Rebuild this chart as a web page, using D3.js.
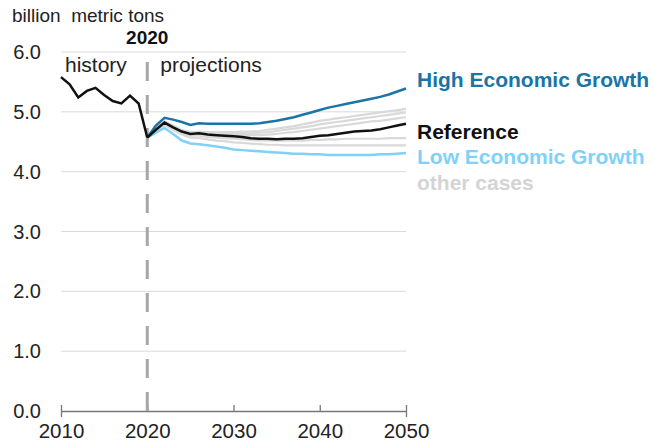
<!DOCTYPE html>
<meta charset="utf-8">
<title>Energy-related CO2 emissions</title>
<style>
    body { margin: 0; background: #fff; }
    text { font-family: "Liberation Sans", Arial, sans-serif; }
</style>
<body>
<div id="chart"></div>
<script src="https://d3js.org/d3.v7.min.js"></script>
<script>

// history, 2010-2020
var histYears = [2010, 2011, 2012, 2013, 2014, 2015, 2016, 2017, 2018, 2019, 2020];
var histValues = [5.58, 5.46, 5.24, 5.35, 5.40, 5.28, 5.18, 5.14, 5.27, 5.14, 4.57];

// projections, 2020-2050
var projYears = [2020, 2021, 2022, 2023, 2024, 2025, 2026, 2027, 2028, 2029, 2030,
    2031, 2032, 2033, 2034, 2035, 2036, 2037, 2038, 2039, 2040,
    2041, 2042, 2043, 2044, 2045, 2046, 2047, 2048, 2049, 2050];

var reference = [4.57, 4.70, 4.82, 4.74, 4.67, 4.63, 4.64, 4.62, 4.61, 4.60, 4.59,
    4.58, 4.56, 4.55, 4.55, 4.54, 4.55, 4.55, 4.56, 4.58, 4.60,
    4.61, 4.63, 4.65, 4.67, 4.68, 4.69, 4.71, 4.74, 4.77, 4.80];

var highGrowth = [4.57, 4.77, 4.90, 4.87, 4.83, 4.78, 4.81, 4.80, 4.80, 4.80, 4.80,
    4.80, 4.80, 4.81, 4.83, 4.85, 4.88, 4.91, 4.95, 4.99, 5.03,
    5.07, 5.10, 5.13, 5.16, 5.19, 5.22, 5.25, 5.29, 5.34, 5.39];

var lowGrowth = [4.57, 4.65, 4.73, 4.63, 4.52, 4.47, 4.46, 4.44, 4.42, 4.40, 4.37,
    4.36, 4.35, 4.34, 4.33, 4.32, 4.31, 4.30, 4.30, 4.29, 4.29,
    4.28, 4.28, 4.28, 4.28, 4.28, 4.28, 4.29, 4.29, 4.30, 4.31];

// other side cases
var otherA = [4.57, 4.72, 4.84, 4.77, 4.70, 4.66, 4.67, 4.66, 4.66, 4.66, 4.66,
    4.67, 4.67, 4.68, 4.70, 4.72, 4.74, 4.76, 4.79, 4.82, 4.85,
    4.87, 4.89, 4.91, 4.93, 4.95, 4.97, 4.99, 5.01, 5.03, 5.05];
var otherB = [4.57, 4.71, 4.83, 4.76, 4.69, 4.65, 4.66, 4.65, 4.64, 4.64, 4.64,
    4.64, 4.64, 4.65, 4.66, 4.68, 4.70, 4.72, 4.74, 4.76, 4.79,
    4.81, 4.83, 4.85, 4.87, 4.89, 4.91, 4.93, 4.95, 4.97, 4.99];
var otherC = [4.57, 4.71, 4.82, 4.75, 4.68, 4.64, 4.64, 4.63, 4.62, 4.62, 4.61,
    4.61, 4.61, 4.61, 4.62, 4.63, 4.65, 4.66, 4.68, 4.70, 4.72,
    4.74, 4.76, 4.78, 4.80, 4.82, 4.84, 4.85, 4.87, 4.89, 4.91];
var otherD = [4.57, 4.69, 4.80, 4.72, 4.64, 4.60, 4.60, 4.58, 4.57, 4.56, 4.55,
    4.54, 4.53, 4.52, 4.52, 4.52, 4.52, 4.52, 4.52, 4.53, 4.53,
    4.54, 4.54, 4.55, 4.55, 4.55, 4.55, 4.55, 4.56, 4.56, 4.56];
var otherE = [4.57, 4.68, 4.78, 4.70, 4.62, 4.57, 4.56, 4.54, 4.52, 4.51, 4.49,
    4.48, 4.47, 4.46, 4.45, 4.45, 4.44, 4.44, 4.44, 4.44, 4.44,
    4.44, 4.44, 4.44, 4.44, 4.44, 4.44, 4.44, 4.44, 4.44, 4.44];
var otherCases = [otherA, otherB, otherC, otherD, otherE];

var xTicks = [2010, 2020, 2030, 2040, 2050];
var yTicks = [0, 1, 2, 3, 4, 5, 6];

var W = 655, H = 447;
var margin = { top: 52, right: 249, bottom: 36, left: 61 },
    width = W - margin.left - margin.right,
    height = H - margin.top - margin.bottom;

var x = d3.scaleLinear().domain([2010, 2050]).range([0, width]);
var y = d3.scaleLinear().domain([0, 6]).range([height, 0]);

var svg = d3.select("#chart").append("svg")
    .attr("width", W)
    .attr("height", H);
var g = svg.append("g")
    .attr("transform", "translate(" + margin.left + "," + margin.top + ")");

// gridlines
g.append("g")
    .selectAll("line")
    .data(yTicks.filter(function (d) { return d > 0; }))
    .enter().append("line")
    .attr("x1", 0).attr("x2", width)
    .attr("y1", function (d) { return y(d); })
    .attr("y2", function (d) { return y(d); })
    .attr("stroke", "#d9d9d9")
    .attr("stroke-width", 1);

// y labels
g.append("g")
    .selectAll("text")
    .data(yTicks)
    .enter().append("text")
    .attr("x", -20)
    .attr("y", function (d) { return y(d) + 7; })
    .attr("text-anchor", "end")
    .attr("font-size", "20px")
    .attr("fill", "#222")
    .text(function (d) { return d3.format(".1f")(d); });

// x axis
var xAxis = g.append("g")
    .attr("transform", "translate(0," + height + ")")
    .call(d3.axisBottom(x).tickValues(xTicks).tickFormat(d3.format("d")).tickSize(6).tickPadding(2));
xAxis.select(".domain").attr("stroke", "#777").attr("stroke-width", 1.3);
xAxis.selectAll(".tick line").attr("stroke", "#777").attr("stroke-width", 1.3)
    .attr("y1", 0).attr("y2", -6);
xAxis.selectAll(".tick text")
    .attr("font-family", "Liberation Sans, Arial, sans-serif")
    .attr("font-size", "20.5px")
    .attr("fill", "#222")
    .attr("dy", "0.95em");

// 2020 divider
g.append("line")
    .attr("x1", x(2020)).attr("x2", x(2020))
    .attr("y1", height).attr("y2", 0)
    .attr("stroke", "#a6a6a6")
    .attr("stroke-width", 3)
    .attr("stroke-dasharray", "19,14");

var line = d3.line()
    .x(function (d) { return x(d[0]); })
    .y(function (d) { return y(d[1]); });

function pairs(years, vals) {
    return years.map(function (yr, i) { return [yr, vals[i]]; });
}

// other cases
g.append("g")
    .selectAll("path")
    .data(otherCases)
    .enter().append("path")
    .attr("d", function (d) { return line(pairs(projYears, d)); })
    .attr("fill", "none")
    .attr("stroke", "#d9d9d9")
    .attr("stroke-width", 2.2);

g.append("path")
    .attr("d", line(pairs(projYears, lowGrowth)))
    .attr("fill", "none")
    .attr("stroke", "#7fd2f7")
    .attr("stroke-width", 2.5);

g.append("path")
    .attr("d", line(pairs(projYears, highGrowth)))
    .attr("fill", "none")
    .attr("stroke", "#1b74a6")
    .attr("stroke-width", 2.5);

g.append("path")
    .attr("d", line(pairs(projYears, reference)))
    .attr("fill", "none")
    .attr("stroke", "#111")
    .attr("stroke-width", 2.5);

g.append("path")
    .attr("d", line(pairs(histYears, histValues)))
    .attr("fill", "none")
    .attr("stroke", "#111")
    .attr("stroke-width", 2.5);

// labels
svg.append("text")
    .attr("x", 12).attr("y", 22)
    .attr("font-size", "19px")
    .attr("fill", "#222")
    .attr("xml:space", "preserve")
    .text("billion  metric tons");

g.append("text")
    .attr("x", x(2020)).attr("y", -8)
    .attr("text-anchor", "middle")
    .attr("font-size", "19px")
    .attr("font-weight", "bold")
    .attr("fill", "#111")
    .text("2020");

g.append("text")
    .attr("x", 4).attr("y", 20)
    .attr("font-size", "21px")
    .attr("fill", "#222")
    .text("history");

g.append("text")
    .attr("x", x(2020) + 13).attr("y", 20)
    .attr("font-size", "21px")
    .attr("fill", "#222")
    .text("projections");

var legend = [
    { label: "High Economic Growth", color: "#1b74a6", y: 87 },
    { label: "Reference", color: "#111", y: 139 },
    { label: "Low Economic Growth", color: "#7fd2f7", y: 164 },
    { label: "other cases", color: "#d4d4d4", y: 190 }
];
svg.append("g")
    .selectAll("text")
    .data(legend)
    .enter().append("text")
    .attr("x", 417)
    .attr("y", function (d) { return d.y; })
    .attr("font-size", "21px")
    .attr("font-weight", "bold")
    .attr("fill", function (d) { return d.color; })
    .text(function (d) { return d.label; });

</script>
</body>
